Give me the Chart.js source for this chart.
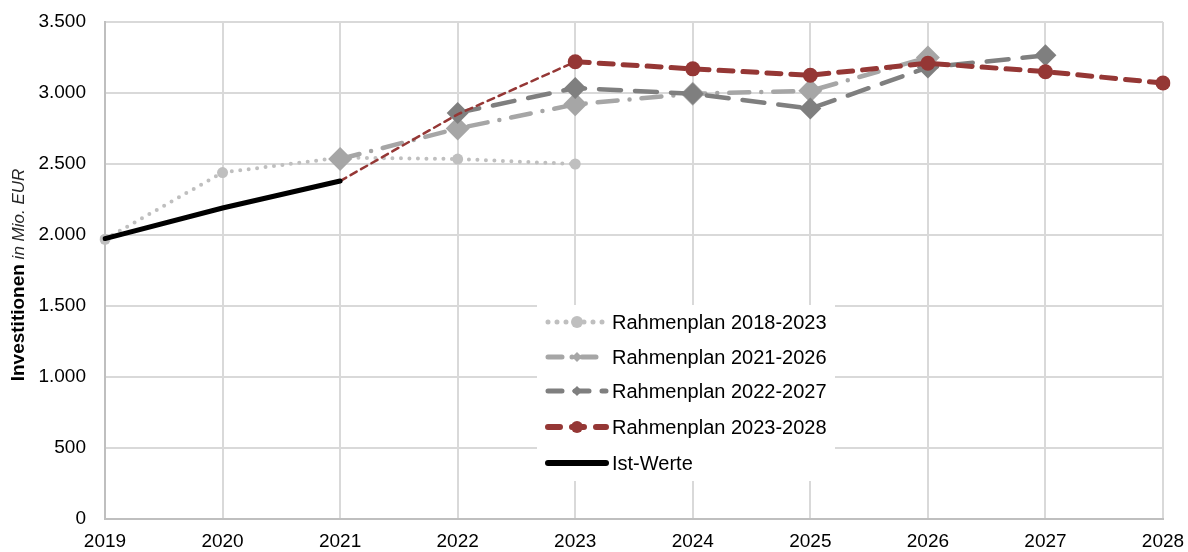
<!DOCTYPE html>
<html>
<head>
<meta charset="utf-8">
<script src="https://cdn.jsdelivr.net/npm/chart.js@4"></script>
<style>
  html, body { margin: 0; padding: 0; background: #fff; }
  #wrap { width: 1188px; height: 552px; position: relative; }
</style>
</head>
<body>
<div id="wrap"><canvas id="chart" width="1188" height="552"></canvas></div>
<script>
// Daten (Mio. EUR)
const jahre = ['2019', '2020', '2021', '2022', '2023', '2024', '2025', '2026', '2027', '2028'];
const plan2018 = [1970, 2440, 2545, 2535, 2500, null, null, null, null, null];
const plan2021 = [null, null, 2535, 2750, 2920, 2995, 3015, 3250, null, null];
const plan2022 = [null, null, null, 2860, 3035, 2995, 2890, 3180, 3265, null];
const plan2023 = [null, null, 2380, 2850, 3220, 3170, 3125, 3210, 3150, 3070];
const istWerte = [1975, 2190, 2380, null, null, null, null, null, null, null];
const yTicks = [0, 500, 1000, 1500, 2000, 2500, 3000, 3500];

const FONT = '"Liberation Sans", Arial, sans-serif';
const ROT = '#953735';

function formatDe(v) {
    if (v < 1000) return String(v);
    const t = Math.floor(v / 1000);
    const r = String(v % 1000).padStart(3, '0');
    return t + '.' + r;
}

// Legende innerhalb der Zeichenfläche
const legendePlugin = {
    id: 'legende',
    afterDraw(chart) {
        const ctx = chart.ctx;
        const x0 = 537, y0 = 305, w = 298, h = 176;
        ctx.save();
        ctx.fillStyle = '#fff';
        ctx.fillRect(x0, y0, w, h);
        const zeilen = [322, 357, 391, 427, 463];
        chart.data.datasets.forEach((ds, i) => {
            const y = zeilen[i];
            const lg = ds.legende;
            ctx.save();
            ctx.strokeStyle = ds.borderColor;
            ctx.lineWidth = lg.width;
            ctx.lineCap = lg.cap;
            ctx.setLineDash(lg.dash);
            ctx.beginPath();
            ctx.moveTo(548, y);
            ctx.lineTo(606, y);
            ctx.stroke();
            ctx.restore();
            if (lg.marker) {
                ctx.save();
                ctx.fillStyle = ds.borderColor;
                ctx.beginPath();
                if (lg.marker === 'circle') {
                    ctx.arc(577, y, lg.size, 0, Math.PI * 2);
                } else {
                    ctx.moveTo(577, y - lg.size);
                    ctx.lineTo(577 + lg.size, y);
                    ctx.lineTo(577, y + lg.size);
                    ctx.lineTo(577 - lg.size, y);
                    ctx.closePath();
                }
                ctx.fill();
                ctx.restore();
            }
            ctx.fillStyle = '#000';
            ctx.font = '20px ' + FONT;
            ctx.textBaseline = 'middle';
            ctx.textAlign = 'left';
            ctx.fillText(ds.label, 612, y + 1);
        });
        ctx.restore();
    }
};

// Achsentitel mit fettem und kursivem Teil
const achsentitelPlugin = {
    id: 'achsentitel',
    afterDraw(chart) {
        const ctx = chart.ctx;
        const teil1 = 'Investitionen';
        const teil2 = ' in Mio. EUR';
        ctx.save();
        ctx.translate(19, 275);
        ctx.rotate(-Math.PI / 2);
        ctx.textBaseline = 'middle';
        ctx.font = 'bold 19px ' + FONT;
        const w1 = ctx.measureText(teil1).width;
        ctx.font = 'italic 17px ' + FONT;
        const w2 = ctx.measureText(teil2).width;
        let x = -(w1 + w2) / 2;
        ctx.fillStyle = '#000';
        ctx.font = 'bold 19px ' + FONT;
        ctx.textAlign = 'left';
        ctx.fillText(teil1, x, 0);
        ctx.font = 'italic 17px ' + FONT;
        ctx.fillStyle = '#262626';
        ctx.fillText(teil2, x + w1, 0);
        ctx.restore();
    }
};

const ctx = document.getElementById('chart').getContext('2d');
new Chart(ctx, {
    type: 'line',
    data: {
        labels: jahre,
        datasets: [
            {
                label: 'Rahmenplan 2018-2023',
                data: plan2018,
                borderColor: '#bfbfbf',
                backgroundColor: '#bfbfbf',
                borderWidth: 4,
                borderDash: [0, 8.5],
                borderCapStyle: 'round',
                pointStyle: 'circle',
                pointRadius: 5.5,
                pointBorderWidth: 0,
                order: 5,
                legende: { width: 5, dash: [0, 9], cap: 'round', marker: 'circle', size: 6 }
            },
            {
                label: 'Rahmenplan 2021-2026',
                data: plan2021,
                borderColor: '#a6a6a6',
                backgroundColor: '#a6a6a6',
                borderWidth: 4.5,
                borderDash: [20, 12, 0, 12],
                borderCapStyle: 'round',
                pointStyle: 'rectRot',
                pointRadius: 12,
                pointBorderWidth: 0,
                order: 4,
                legende: { width: 5, dash: [14, 10, 0, 10], cap: 'round', marker: 'diamond', size: 5 }
            },
            {
                label: 'Rahmenplan 2022-2027',
                data: plan2022,
                borderColor: '#7f7f7f',
                backgroundColor: '#7f7f7f',
                borderWidth: 4.5,
                borderDash: [22, 14],
                borderCapStyle: 'round',
                pointStyle: 'rectRot',
                pointRadius: 11,
                pointBorderWidth: 0,
                order: 3,
                legende: { width: 5, dash: [14, 13], cap: 'round', marker: 'diamond', size: 5 }
            },
            {
                label: 'Rahmenplan 2023-2028',
                data: plan2023,
                borderColor: ROT,
                backgroundColor: ROT,
                borderWidth: 5,
                borderDash: [14, 10],
                borderCapStyle: 'round',
                pointStyle: 'circle',
                pointRadius: c => c.dataIndex >= 4 ? 7.5 : 0,
                pointBorderWidth: 0,
                segment: {
                    borderWidth: c => c.p0DataIndex < 4 ? 2.5 : 5,
                    borderDash: c => c.p0DataIndex < 4 ? [7, 5] : [14, 10]
                },
                order: 2,
                legende: { width: 6, dash: [12, 12], cap: 'round', marker: 'circle', size: 6 }
            },
            {
                label: 'Ist-Werte',
                data: istWerte,
                borderColor: '#000',
                backgroundColor: '#000',
                borderWidth: 5,
                borderCapStyle: 'round',
                pointRadius: 0,
                order: 1,
                legende: { width: 6, dash: [], cap: 'round', marker: null }
            }
        ]
    },
    options: {
        responsive: false,
        animation: false,
        devicePixelRatio: 1,
        layout: { padding: { top: 22, right: 25, left: 0, bottom: 0 } },
        plugins: {
            legend: { display: false },
            tooltip: { enabled: false }
        },
        scales: {
            x: {
                offset: false,
                grid: { color: '#d9d9d9', lineWidth: 2, drawTicks: false },
                border: { color: '#bfbfbf', width: 2 },
                ticks: {
                    color: '#000',
                    font: { family: FONT, size: 19 },
                    padding: 11,
                    maxRotation: 0
                },
                afterFit: s => { s.height = 33; s.paddingLeft = 0; s.paddingRight = 0; }
            },
            y: {
                min: 0,
                max: 3500,
                afterBuildTicks: s => { s.ticks = yTicks.map(v => ({ value: v })); },
                grid: { color: '#d9d9d9', lineWidth: 2, drawTicks: false },
                border: { color: '#bfbfbf', width: 2 },
                ticks: {
                    color: '#000',
                    font: { family: FONT, size: 19 },
                    padding: 19,
                    callback: v => formatDe(v)
                },
                afterFit: s => { s.width = 105; s.paddingTop = 0; s.paddingBottom = 0; }
            }
        }
    },
    plugins: [legendePlugin, achsentitelPlugin]
});
</script>
</body>
</html>
